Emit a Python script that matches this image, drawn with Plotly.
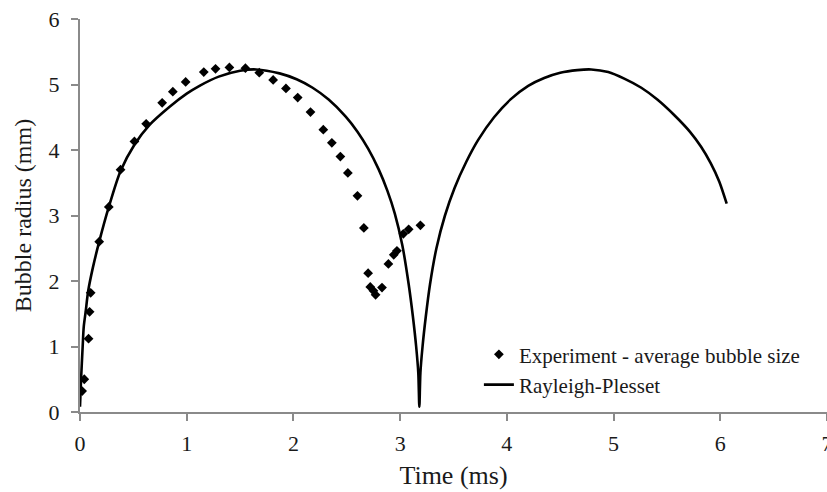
import plotly.graph_objects as go

# Experimental data: average bubble size
exp_time = [0.02, 0.04, 0.08, 0.09, 0.10, 0.18, 0.27, 0.38, 0.51, 0.62, 0.77, 0.87, 0.99,
            1.16, 1.27, 1.40, 1.55, 1.68, 1.81, 1.93, 2.04, 2.16, 2.28, 2.36, 2.44, 2.51,
            2.60, 2.66, 2.70, 2.72, 2.75, 2.77, 2.83, 2.89, 2.94, 2.97, 3.03, 3.08, 3.19]
exp_radius = [0.32, 0.50, 1.12, 1.53, 1.82, 2.60, 3.13, 3.70, 4.13, 4.40, 4.72, 4.89, 5.04,
              5.19, 5.24, 5.26, 5.25, 5.18, 5.07, 4.94, 4.80, 4.58, 4.31, 4.11, 3.90, 3.65,
              3.30, 2.81, 2.12, 1.91, 1.85, 1.79, 1.90, 2.26, 2.40, 2.46, 2.72, 2.79, 2.85]

# Rayleigh-Plesset curve
rp_time = [0.0, 0.01, 0.025, 0.035, 0.053, 0.077, 0.12, 0.18, 0.27, 0.38, 0.51, 0.65, 0.84,
           1.0, 1.12, 1.3, 1.5, 1.65, 1.87, 2.03, 2.18, 2.33, 2.49, 2.60, 2.70, 2.80, 2.88,
           2.95, 3.02, 3.08, 3.12, 3.15, 3.17, 3.18, 3.19, 3.21, 3.24, 3.28, 3.34, 3.42,
           3.51, 3.62, 3.73, 3.88, 4.04, 4.20, 4.35, 4.50, 4.66, 4.79, 4.95, 5.10, 5.26,
           5.41, 5.57, 5.72, 5.82, 5.91, 5.99, 6.06]
rp_radius = [0.08, 0.5, 1.0, 1.3, 1.53, 1.85, 2.2, 2.6, 3.13, 3.68, 4.08, 4.38, 4.66,
             4.86, 4.98, 5.12, 5.21, 5.23, 5.17, 5.08, 4.95, 4.77, 4.51, 4.28, 4.02, 3.70,
             3.38, 3.03, 2.55, 1.95, 1.45, 1.0, 0.6, 0.08, 0.6, 1.0, 1.45, 1.95, 2.5, 3.0,
             3.42, 3.82, 4.15, 4.5, 4.78, 4.98, 5.10, 5.18, 5.22, 5.23, 5.19, 5.09, 4.95,
             4.77, 4.53, 4.27, 4.05, 3.80, 3.52, 3.18]

x_ticks = [0, 1, 2, 3, 4, 5, 6, 7]
y_ticks = [0, 1, 2, 3, 4, 5, 6]

FONT = "Liberation Serif, Times New Roman, serif"
AXIS_GREY = "#8a8a8a"

fig = go.Figure()
fig.add_trace(go.Scatter(
    x=exp_time, y=exp_radius, mode="markers",
    name="Experiment - average bubble size",
    marker=dict(symbol="diamond", size=7.5, color="black"),
))
fig.add_trace(go.Scatter(
    x=rp_time, y=rp_radius, mode="lines",
    name="Rayleigh-Plesset",
    line=dict(color="black", width=2.6, shape="spline", smoothing=0.8),
))

fig.update_layout(
    width=827, height=492,
    margin=dict(l=80, r=0, t=19, b=80),
    paper_bgcolor="white", plot_bgcolor="white",
    font=dict(family=FONT, size=22, color="#1a1a1a"),
    showlegend=True,
    legend=dict(
        x=0.534, y=0.198, xanchor="left", yanchor="top",
        bgcolor="rgba(0,0,0,0)", font=dict(size=21),
    ),
    xaxis=dict(
        range=[0, 7.0], tickvals=x_ticks, ticktext=[str(v) for v in x_ticks],
        showgrid=False, zeroline=False, showline=True, linecolor=AXIS_GREY, linewidth=2,
        ticks="outside", ticklen=7, tickwidth=1.5, tickcolor=AXIS_GREY,
        automargin=False, ticklabelstandoff=4, ticklabeloverflow="allow",
        title=dict(text="Time (ms)", font=dict(size=26), standoff=10),
    ),
    yaxis=dict(
        range=[0, 6], tickvals=y_ticks, ticktext=[str(v) for v in y_ticks],
        showgrid=False, zeroline=False, showline=True, linecolor=AXIS_GREY, linewidth=2,
        ticks="outside", ticklen=7, tickwidth=1.5, tickcolor=AXIS_GREY,
        automargin=False, ticklabelstandoff=7,
        title=dict(text="Bubble radius (mm)", font=dict(size=24), standoff=10),
    ),
)

fig.write_html("out.html", config={"displayModeBar": False},
               post_script="document.body.style.margin='0';")
